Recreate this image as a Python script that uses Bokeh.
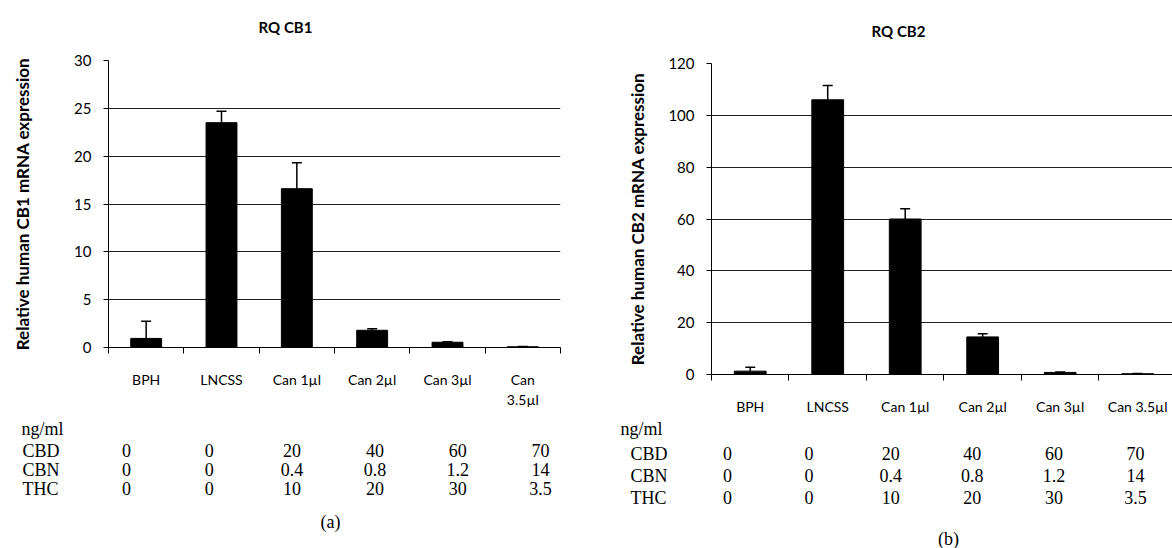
from bokeh.plotting import figure
from bokeh.models import ColumnDataSource, FixedTicker, Whisker, TeeHead, Range1d
from bokeh.layouts import row, column
from bokeh.core.properties import value
from bokeh.embed import file_html
from bokeh.resources import INLINE

# ---------------- data ----------------
categories = ["BPH", "LNCSS", "Can 1µl", "Can 2µl", "Can 3µl", "Can 3.5µl"]
cb1_mean = [0.95, 23.5, 16.6, 1.8, 0.55, 0.08]
cb1_err = [1.8, 1.2, 2.7, 0.15, 0.05, 0.02]
cb2_mean = [1.3, 106.0, 60.0, 14.5, 0.8, 0.3]
cb2_err = [1.5, 5.5, 4.0, 1.2, 0.15, 0.05]
cb1_ticks = [0, 5, 10, 15, 20, 25, 30]
cb2_ticks = [0, 20, 40, 60, 80, 100, 120]
titles = ["RQ CB1", "RQ CB2"]
ylabels = ["Relative human CB1 mRNA expression",
           "Relative human CB2 mRNA expression"]
captions = ["(a)", "(b)"]
table_unit = "ng/ml"
table_rows = ["CBD", "CBN", "THC"]
cbd_vals = ["0", "0", "20", "40", "60", "70"]
cbn_vals = ["0", "0", "0.4", "0.8", "1.2", "14"]
thc_vals = ["0", "0", "10", "20", "30", "3.5"]
table_vals = [cbd_vals, cbn_vals, thc_vals]

SANS = "Lato"
SERIF = "Liberation Serif"
W = 1172
HEAD = 45          # header strip height (titles)
CH = 373           # chart strip height
TAB = 548 - HEAD - CH


def chart(ylabel, means, errs, yticks, width, frame_left, frame_top,
          frame_bottom, border_right, x_end, wrap_last, ylab_standoff):
    p = figure(width=width, height=CH, output_backend="svg",
               toolbar_location=None, x_range=Range1d(0, x_end),
               y_range=Range1d(yticks[0], yticks[-1]),
               min_border_left=frame_left, min_border_right=border_right,
               min_border_top=frame_top - HEAD,
               min_border_bottom=HEAD + CH - frame_bottom)
    p.outline_line_color = None
    p.background_fill_color = "white"
    p.border_fill_color = "white"

    n = len(categories)
    centers = [i + 0.5 for i in range(n)]
    tops = [m + e for m, e in zip(means, errs)]
    src = ColumnDataSource(dict(x=centers, top=means, upper=tops))

    p.vbar(x="x", top="top", bottom=0, width=0.41, source=src,
           fill_color="black", line_color="black")
    wh = Whisker(base="x", lower="top", upper="upper", source=src,
                 dimension="height", line_color="black", line_width=1.5,
                 upper_head=TeeHead(size=10, line_color="black", line_width=1.5),
                 lower_head=None)
    p.add_layout(wh)

    ya = p.yaxis[0]
    ya.ticker = FixedTicker(ticks=yticks, minor_ticks=[])
    ya.axis_line_color = "black"
    ya.major_tick_line_color = "black"
    ya.major_tick_out = 5
    ya.major_tick_in = 0
    ya.minor_tick_line_color = None
    ya.major_label_text_font = SANS
    ya.major_label_text_font_size = "15px"
    ya.major_label_text_color = "black"
    ya.major_label_standoff = 12
    ya.axis_label = ylabel
    ya.axis_label_text_font = SANS
    ya.axis_label_text_font_size = "17px"
    ya.axis_label_text_font_style = "bold"
    ya.axis_label_text_color = "black"
    ya.axis_label_standoff = ylab_standoff

    labels = list(categories)
    if wrap_last:
        labels[-1] = labels[-1].replace(" ", "\n", 1)
    xa = p.xaxis[0]
    xa.ticker = FixedTicker(ticks=centers, minor_ticks=list(range(n + 1)))
    xa.major_label_overrides = {c: l for c, l in zip(centers, labels)}
    xa.axis_line_color = "black"
    xa.major_tick_line_color = None
    xa.major_tick_out = 0
    xa.major_tick_in = 0
    xa.minor_tick_line_color = "black"
    xa.minor_tick_out = 6
    xa.minor_tick_in = 0
    xa.major_label_text_font = SANS
    xa.major_label_text_font_size = "14px"
    xa.major_label_text_color = "black"
    xa.major_label_standoff = 17

    p.xgrid.visible = False
    p.ygrid.ticker = FixedTicker(ticks=yticks, minor_ticks=[])
    p.ygrid.grid_line_color = "#222222"
    p.ygrid.grid_line_width = 1
    return p


def strip(height):
    s = figure(width=W, height=height, output_backend="svg",
               toolbar_location=None, x_range=Range1d(0, W),
               y_range=Range1d(height, 0), x_axis_type=None,
               y_axis_type=None, min_border=0)
    s.outline_line_color = None
    s.grid.visible = False
    s.background_fill_color = "white"
    s.border_fill_color = "white"
    return s


# ----- header with the two titles -----
head = strip(HEAD)
head.text(x=[285, 898], y=[26, 30], text=titles, text_font=value(SANS),
          text_font_size=value("15px"), text_font_style="bold",
          text_align="center", text_baseline="middle", text_color="black")

# ----- the two charts (each in its own column so frames are not aligned) -----
pa = chart(ylabels[0], cb1_mean, cb1_err, cb1_ticks, width=580,
           frame_left=108, frame_top=60, frame_bottom=347, border_right=20,
           x_end=6, wrap_last=True, ylab_standoff=38)
pb = chart(ylabels[1], cb2_mean, cb2_err, cb2_ticks, width=592,
           frame_left=131, frame_top=63, frame_bottom=374, border_right=0,
           x_end=5.95, wrap_last=False, ylab_standoff=17)

# ----- dose tables and captions -----
tab = strip(TAB)
common = dict(text_font=value(SERIF), text_font_size=value("18px"),
              text_baseline="middle", text_color="black")
top = HEAD + CH
table_layout = [
    # unit_x, rowlab_x, [unit_y, CBD_y, CBN_y, THC_y], col0_x, col_step, caption(x, y)
    (21, 22, [428, 450, 469, 488], 126, 82.8, (330, 521)),
    (620, 630, [428, 453, 475, 497], 727, 81.6, (948, 538)),
]
for (ux, rx, ys, c0, cs, cap), capt in zip(table_layout, captions):
    tab.text(x=[ux], y=[ys[0] - top], text=[table_unit], text_align="left",
             **common)
    tab.text(x=[rx] * len(table_rows), y=[y - top for y in ys[1:]],
             text=table_rows, text_align="left", **common)
    cols = [c0 + cs * i for i in range(len(categories))]
    for yy, vals in zip(ys[1:], table_vals):
        tab.text(x=cols, y=[yy - top] * len(vals), text=vals,
                 text_align="center", **common)
    tab.text(x=[cap[0]], y=[cap[1] - top], text=[capt], text_align="center",
             **common)

layout = column(head, row(column(pa), column(pb)), tab)
open("out.html", "w").write(file_html(layout, INLINE))
